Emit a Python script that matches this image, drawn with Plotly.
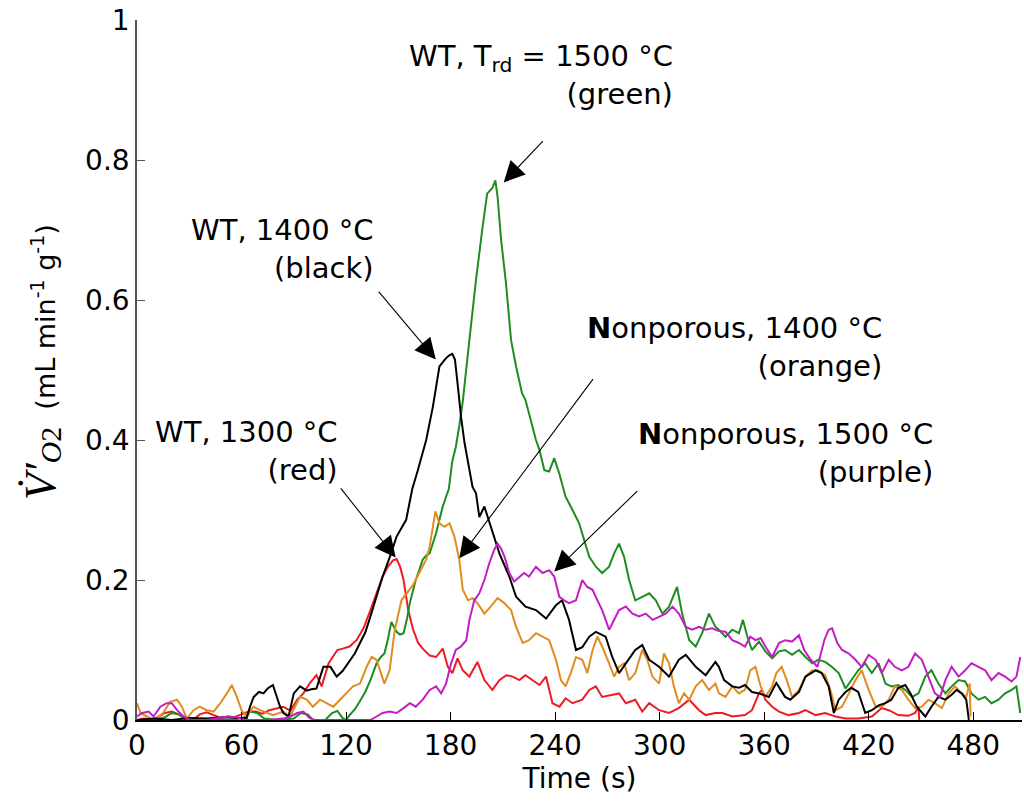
import plotly.graph_objects as go

# (time s, O2 rate mL min^-1 g^-1)
red_wt1300 = [(0,0.0),(4,0.002),(8,0.0),(12,0.004),(16,0.01),(20,0.012),(24,0.008),(28,0.003),(32,0.0),(36,0.008),(40,0.011),(44,0.007),(48,0.003),(52,0.005),(56,0.004),(60,0.008),(64,0.012),(68,0.012),(72,0.009),(76,0.014),(80,0.017),(84,0.019),(88,0.013),(92,0.029),(95.5,0.038),(99,0.052),(103,0.064),(106,0.048),(110,0.081),(115,0.1),(118,0.102),(122,0.105),(126,0.114),(130,0.131),(134,0.157),(137.5,0.181),(141,0.205),(144,0.219),(147,0.228),(149,0.23),(151,0.219),(153,0.2),(155.7,0.157),(158.5,0.129),(161.4,0.11),(164,0.102),(168,0.092),(171.7,0.09),(175.5,0.102),(178.4,0.076),(181,0.067),(184,0.088),(187,0.071),(190.8,0.062),(195.4,0.083),(199.4,0.057),(204,0.043),(208,0.057),(212,0.064),(215.6,0.062),(219.5,0.057),(223,0.064),(227,0.057),(231,0.05),(234.8,0.062),(238.5,0.024),(242.5,0.019),(246,0.031),(250,0.024),(255.6,0.029),(259.6,0.043),(263.4,0.048),(267,0.033),(272,0.036),(276.7,0.038),(280.6,0.024),(286,0.029),(290,0.012),(294,0.024),(299.7,0.014),(305.4,0.01),(311,0.017),(317,0.029),(322.6,0.014),(326.4,0.007),(332,0.01),(336,0.01),(341.7,0.005),(349,0.007),(353,0.014),(357,0.038),(358.7,0.043),(360.7,0.029),(364.6,0.019),(368.5,0.012),(374,0.007),(380,0.01),(383.7,0.014),(389.5,0.007),(395,0.01),(401,0.005),(406.7,0.002),(414,0.002),(421.8,0.005),(427.5,0.017),(431.5,0.014),(437,0.007),(442.8,0.006),(446.6,0.01),(448.6,0.019),(449,0.0)]

black_wt1400 = [(0,0.0),(10,0.002),(20,0.0),(30,0.003),(40,0.002),(50,0.004),(58,0.003),(63,0.003),(65,0.02),(67,0.033),(70,0.04),(72.6,0.038),(75,0.045),(78,0.05),(80,0.035),(82,0.02),(84,0.01),(87,0.005),(90,0.038),(93.6,0.048),(97.4,0.042),(100,0.044),(103,0.045),(105,0.06),(107,0.076),(111,0.076),(114.6,0.062),(118,0.07),(122,0.085),(125,0.095),(128,0.11),(131,0.125),(134,0.148),(137.5,0.176),(141,0.205),(145,0.232),(149,0.262),(154.5,0.286),(158,0.33),(161,0.355),(164,0.38),(166,0.4),(169.8,0.447),(173.6,0.505),(177.4,0.517),(179.3,0.521),(181,0.523),(182.5,0.515),(184,0.481),(186,0.433),(188,0.396),(190,0.37),(192.6,0.333),(194.6,0.324),(196.5,0.29),(199.4,0.305),(203,0.276),(208,0.238),(213.7,0.205),(217.6,0.176),(223,0.162),(229,0.157),(234.8,0.145),(240.5,0.164),(244,0.171),(248,0.143),(252,0.1),(255.6,0.104),(259.6,0.119),(263.4,0.126),(269,0.119),(272.8,0.09),(276.7,0.067),(280.6,0.081),(286,0.1),(290,0.107),(294,0.086),(299.7,0.076),(305.4,0.062),(311,0.086),(315,0.093),(320.7,0.076),(326.4,0.064),(332,0.083),(334,0.076),(337,0.057),(341.7,0.048),(345.5,0.046),(349,0.05),(353,0.04),(357,0.038),(362.7,0.033),(367,0.053),(372,0.033),(375,0.029),(380,0.04),(383.7,0.062),(389.5,0.071),(393,0.067),(397,0.048),(400,0.01),(402.8,0.029),(406.7,0.04),(410,0.046),(414,0.04),(418,0.01),(421.8,0.014),(425.7,0.021),(429.6,0.024),(433,0.029),(437,0.046),(441,0.05),(444,0.038),(447.6,0.019),(452.5,0.005),(456,0.019),(460,0.033),(464,0.029),(467.6,0.036),(470.5,0.043),(473.4,0.038),(476,0.029),(477.5,0.0)]

green_wt1500 = [(0,0.0),(10,0.0),(16,0.004),(20,0.01),(24,0.008),(28,0.0),(40,0.0),(55,0.0),(62,0.004),(65,0.012),(69,0.01),(73,0.002),(80,0.0),(90,0.002),(94,0.01),(98,0.008),(101,0.0),(108,0.0),(112,0.01),(115,0.013),(118,0.003),(120,0.0),(122,0.007),(125,0.015),(128,0.027),(131,0.04),(134,0.057),(137.5,0.081),(140,0.09),(142,0.095),(144,0.115),(146,0.14),(149,0.126),(151,0.122),(153,0.124),(155,0.145),(156.6,0.167),(158,0.18),(160,0.2),(162,0.214),(164,0.229),(166,0.235),(168,0.238),(171.7,0.267),(175.5,0.305),(177.4,0.319),(179,0.33),(181,0.37),(183,0.39),(185,0.42),(187,0.455),(190.8,0.543),(194.6,0.629),(198.4,0.705),(201,0.752),(204,0.76),(205.7,0.771),(207,0.747),(209,0.686),(211.8,0.624),(214.7,0.543),(217.6,0.505),(221,0.467),(223,0.457),(226.8,0.419),(229,0.4),(231,0.386),(233.8,0.357),(236.6,0.355),(239.5,0.374),(242.4,0.352),(246,0.319),(250,0.3),(253.8,0.281),(256.7,0.257),(259.6,0.233),(263.4,0.219),(267,0.21),(271,0.219),(273.9,0.238),(276.7,0.252),(279.6,0.233),(282.5,0.2),(286,0.171),(290,0.176),(294,0.181),(297.8,0.171),(301.6,0.152),(305.4,0.162),(310,0.19),(312.9,0.152),(317,0.114),(320.7,0.105),(324.4,0.124),(328.3,0.152),(332,0.133),(334,0.129),(337.8,0.119),(341.7,0.129),(345.5,0.124),(347.8,0.143),(350.4,0.119),(353,0.1),(357,0.112),(360.7,0.098),(364.6,0.088),(368.5,0.098),(372,0.1),(376,0.093),(380,0.1),(383.7,0.09),(387.6,0.081),(391,0.086),(395,0.083),(398.8,0.076),(402.8,0.067),(406.7,0.045),(410,0.057),(414,0.071),(418,0.081),(421.8,0.067),(425.7,0.081),(429.6,0.052),(433,0.048),(437,0.05),(441,0.043),(444.9,0.033),(448.6,0.038),(452.5,0.062),(456,0.071),(460,0.052),(464,0.038),(467.6,0.048),(471.6,0.057),(475.4,0.055),(479,0.038),(483,0.029),(486.8,0.033),(490.5,0.024),(494.5,0.029),(498.3,0.038),(502,0.043),(504.8,0.048),(507,0.01)]

orange_np1400 = [(0,0.024),(2,0.01),(5.7,0.005),(9.5,0.0),(15,0.01),(19,0.026),(23,0.029),(25.8,0.019),(28.6,0.002),(32.5,0.014),(36,0.019),(40,0.014),(44,0.012),(47.8,0.024),(51.6,0.038),(54.4,0.05),(57.3,0.033),(60,0.014),(63,0.005),(66.8,0.019),(70.7,0.014),(74.5,0.01),(78,0.007),(84,0.012),(87.9,0.005),(90.7,0.019),(93.6,0.033),(97.4,0.029),(101,0.019),(105,0.029),(109,0.024),(112.7,0.019),(116.5,0.029),(120,0.038),(124,0.048),(128,0.052),(131.8,0.076),(134.7,0.09),(137.5,0.086),(140,0.067),(142,0.052),(145,0.071),(148,0.129),(151.8,0.171),(154.7,0.181),(158.5,0.193),(162,0.21),(166,0.229),(168,0.248),(169.8,0.276),(171.3,0.298),(173.6,0.281),(176.5,0.276),(179.4,0.281),(182.2,0.262),(185,0.229),(187,0.186),(190,0.171),(192.6,0.174),(195.4,0.167),(199.4,0.152),(203,0.162),(207,0.174),(210.9,0.167),(214.7,0.157),(217.6,0.133),(221.4,0.11),(225,0.114),(229,0.124),(232.8,0.119),(236.6,0.114),(240.5,0.086),(243.3,0.057),(246,0.048),(249,0.067),(252,0.09),(255.6,0.086),(258.5,0.067),(261.5,0.1),(264.3,0.119),(267,0.105),(271,0.081),(273.9,0.062),(276.7,0.076),(279.6,0.081),(282.5,0.057),(286,0.067),(290,0.1),(292.9,0.086),(295.8,0.062),(299.7,0.052),(302.5,0.095),(305.4,0.081),(308.2,0.048),(311,0.024),(314,0.038),(317,0.029),(320.7,0.048),(324.4,0.057),(328.3,0.043),(332,0.052),(334,0.038),(337.8,0.033),(341.7,0.048),(345.5,0.038),(349,0.043),(352,0.071),(355,0.076),(358,0.048),(360.7,0.033),(364.6,0.048),(367,0.067),(370,0.076),(373,0.057),(376,0.033),(380,0.043),(383.7,0.062),(387.6,0.071),(391,0.071),(395,0.064),(398,0.043),(401,0.014),(404.7,0.019),(408.6,0.038),(412.4,0.057),(416,0.071),(420,0.043),(424,0.019),(427.5,0.019),(431.5,0.029),(435,0.048),(439,0.043),(442.8,0.029),(446.6,0.017),(450.5,0.019),(454.3,0.029),(458,0.024),(462,0.017),(466,0.038),(469.6,0.048),(473.4,0.038),(476,0.033),(478,0.052),(478.5,0.005)]

purple_np1500 = [(0,0.005),(2.9,0.01),(6.7,0.012),(9.5,0.005),(13.4,0.019),(17,0.024),(20,0.024),(23,0.014),(26.7,0.005),(30.5,0.0),(40,0.0),(48,0.004),(52,0.005),(57,0.004),(62,0.0),(75,0.0),(84,0.002),(88,0.005),(92,0.01),(95.5,0.012),(99,0.003),(102,0.0),(134,0.0),(137.5,0.005),(141,0.01),(145,0.012),(149,0.01),(153,0.017),(156.6,0.024),(160,0.019),(164,0.029),(168,0.043),(171.7,0.048),(174.6,0.038),(177.4,0.052),(180.3,0.081),(183,0.1),(186,0.105),(189,0.114),(190.8,0.143),(193.6,0.171),(196.5,0.181),(199.4,0.2),(202.2,0.224),(205,0.243),(207,0.252),(209,0.245),(211,0.233),(213.7,0.21),(216.5,0.198),(219.5,0.205),(222.2,0.21),(225,0.205),(229,0.219),(232.8,0.21),(236.6,0.214),(239.5,0.205),(242.4,0.176),(245.2,0.171),(248,0.167),(252,0.171),(255.6,0.2),(258.5,0.19),(261.5,0.186),(264.3,0.171),(267,0.157),(271,0.129),(273.9,0.143),(276.7,0.157),(280.6,0.162),(284.4,0.152),(288.2,0.148),(292,0.152),(296,0.143),(299.7,0.148),(303.5,0.152),(307.4,0.162),(311,0.152),(315,0.133),(318.7,0.129),(322.6,0.133),(326.4,0.129),(330,0.131),(334,0.127),(337.8,0.126),(341.7,0.114),(345.5,0.11),(349,0.105),(352,0.119),(355,0.114),(358,0.117),(360.7,0.105),(364.6,0.09),(368.5,0.11),(372,0.114),(376,0.112),(380,0.121),(383,0.1),(386.7,0.086),(390.6,0.076),(394.5,0.114),(397,0.129),(399,0.131),(402,0.11),(404.7,0.1),(408.6,0.095),(412.4,0.086),(416,0.076),(420,0.093),(424,0.086),(427.5,0.067),(431.5,0.086),(435,0.076),(439,0.071),(442.8,0.076),(446.6,0.095),(450.5,0.086),(454.3,0.062),(458,0.038),(461,0.033),(464,0.057),(467.6,0.076),(471.6,0.062),(475.4,0.071),(479,0.081),(483,0.076),(486.8,0.071),(490.5,0.057),(494.5,0.067),(498.3,0.062),(502,0.055),(504.8,0.062),(507,0.09)]

x_ticks = [0, 60, 120, 180, 240, 300, 360, 420, 480]
y_ticks = [0, 0.2, 0.4, 0.6, 0.8, 1]
y_tick_text = ["0", "0.2", "0.4", "0.6", "0.8", "1"]

series = [
    ("WT, 1300 °C", red_wt1300, "#ec1c24"),
    ("WT, 1500 °C", green_wt1500, "#1e8c1e"),
    ("Nonporous, 1400 °C", orange_np1400, "#e08c20"),
    ("WT, 1400 °C", black_wt1400, "#000000"),
    ("Nonporous, 1500 °C", purple_np1500, "#c21ec2"),
]

fig = go.Figure()
for name, pts, col in series:
    fig.add_trace(go.Scatter(x=[p[0] for p in pts], y=[p[1] for p in pts], mode="lines",
                             name=name, line=dict(color=col, width=2), showlegend=False))

FONT = "DejaVu Sans, sans-serif"

# text labels (right-aligned blocks)
labels = [
    ("WT, 1300 °C<br>(red)", 116.5, 0.385),
    ("WT, 1400 °C<br>(black)", 137.0, 0.673),
    ("WT, T<sub>rd</sub> = 1500 °C<br>(green)", 309.0, 0.921),
    ("<b>N</b>onporous, 1400 °C<br>(orange)", 428.6, 0.533),
    ("<b>N</b>onporous, 1500 °C<br>(purple)", 457.8, 0.381),
]
for txt, lx, ly in labels:
    fig.add_annotation(x=lx, y=ly, xref="x", yref="y", text=txt, showarrow=False,
                       xanchor="right", yanchor="middle", align="right",
                       font=dict(family=FONT, size=29, color="black"))

# arrows: (head x, head y, tail x, tail y)
arrows = [
    (148.5, 0.232, 116.3, 0.333),
    (171.5, 0.515, 138.0, 0.614),
    (210.5, 0.768, 233.8, 0.829),
    (185.0, 0.231, 262.4, 0.489),
    (239.5, 0.212, 288.0, 0.329),
]
for hx, hy, tx, ty in arrows:
    fig.add_annotation(x=hx, y=hy, xref="x", yref="y", ax=tx, ay=ty, axref="x", ayref="y",
                       text="", showarrow=True, arrowhead=2, arrowsize=3.8, arrowwidth=1.1,
                       arrowcolor="black")

# y-axis title
fig.add_annotation(x=0, y=0.5, xref="paper", yref="paper", xshift=-96, yshift=8,
                   textangle=-90, showarrow=False, xanchor="center", yanchor="middle",
                   text='<span style="font-family:Liberation Serif;font-size:44px"><i>V̇′</i></span>'
                        '<sub><span style="font-family:Liberation Serif;font-size:30px"><i>O</i>2</span></sub>'
                        '  (mL min<sup>-1</sup> g<sup>-1</sup>)',
                   font=dict(family=FONT, size=27, color="black"))

fig.update_layout(
    width=1024, height=806,
    margin=dict(l=137, r=2, t=20, b=86, autoexpand=False),
    plot_bgcolor="white", paper_bgcolor="white",
    font=dict(family=FONT, size=28, color="black"),
)
fig.update_xaxes(range=[0, 508], tickvals=x_ticks, ticktext=[str(v) for v in x_ticks],
                 ticks="inside", ticklen=8, tickcolor="black", showline=True, linecolor="black",
                 linewidth=1.5, showgrid=False, zeroline=False, ticklabeloverflow="allow",
                 automargin=False,
                 title=dict(text="Time (s)", font=dict(size=28), standoff=2),
                 tickfont=dict(size=28))
fig.update_yaxes(range=[0, 1], tickvals=y_ticks, ticktext=y_tick_text,
                 ticks="inside", ticklen=8, tickcolor="#555555", showline=True, linecolor="#555555",
                 linewidth=1.5, showgrid=False, zeroline=False, ticklabeloverflow="allow",
                 automargin=False, tickfont=dict(size=28))

# remove the default 8px page margin so the figure sits at the window's top-left corner
fig.write_html("out.html", config={"displayModeBar": False},
               post_script="document.body.style.margin='0';document.body.style.overflow='hidden';")
